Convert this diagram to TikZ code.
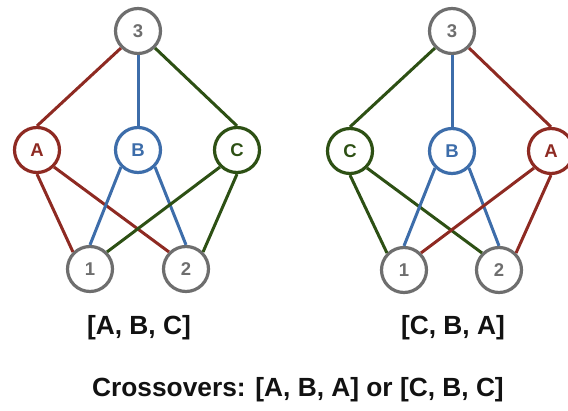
\documentclass[tikz,border=0pt]{standalone}
\usepackage{fontspec}
\setmainfont{Liberation Sans}
\usepackage{xcolor}
\usepackage{tikz}

\definecolor{vred}{HTML}{8E2A22}
\definecolor{vblue}{HTML}{3D6DAA}
\definecolor{vgreen}{HTML}{2D5014}
\definecolor{vgray}{HTML}{6E6E6E}

\begin{document}
\begin{tikzpicture}[
  x=1pt, y=-1pt,
  vtx/.style={circle, draw, line width=3.2pt, minimum size=45pt, inner sep=0pt, fill=white,
    font=\bfseries\fontsize{18.5}{18.5}\selectfont},
  grayv/.style={vtx, draw=vgray, text=vgray},
  redv/.style={vtx, draw=vred, text=vred},
  bluev/.style={vtx, draw=vblue, text=vblue},
  greenv/.style={vtx, draw=vgreen, text=vgreen},
  link/.style={line width=3pt},
  caption/.style={font=\bfseries\fontsize{26.3}{26.3}\selectfont, text=black!93}
]
\useasboundingbox (0,0) rectangle (568,410);

% left ordering
\node[grayv] (l3) at (138,31) {3};
\node[redv] (lA) at (37,150) {A};
\node[bluev] (lB) at (138,150) {B};
\node[greenv] (lC) at (237,150) {C};
\node[grayv] (l1) at (90,269) {1};
\node[grayv] (l2) at (186,269) {2};

% right ordering
\node[grayv] (r3) at (452,31) {3};
\node[greenv] (rC) at (350,151) {C};
\node[bluev] (rB) at (452,151) {B};
\node[redv] (rA) at (551,151) {A};
\node[grayv] (r1) at (404,270) {1};
\node[grayv] (r2) at (499,270) {2};

\begin{scope}[on background layer/.try]
\draw[link, vred] (l3.south west) -- (lA.north);
\draw[link, vblue] (l3.south) -- (lB.north);
\draw[link, vgreen] (l3.south east) -- (lC.north);
\draw[link, vred] (lA.south) -- (l1.north west);
\draw[link, vred] (lA.south east) -- (l2.north west);
\draw[link, vblue] (lB.south west) -- (l1.north);
\draw[link, vblue] (lB.south east) -- (l2.north);
\draw[link, vgreen] (lC.south west) -- (l1.north east);
\draw[link, vgreen] (lC.south) -- (l2.north east);

\draw[link, vgreen] (r3.south west) -- (rC.north);
\draw[link, vblue] (r3.south) -- (rB.north);
\draw[link, vred] (r3.south east) -- (rA.north);
\draw[link, vgreen] (rC.south) -- (r1.north west);
\draw[link, vgreen] (rC.south east) -- (r2.north west);
\draw[link, vblue] (rB.south west) -- (r1.north);
\draw[link, vblue] (rB.south east) -- (r2.north);
\draw[link, vred] (rA.south west) -- (r1.north east);
\draw[link, vred] (rA.south) -- (r2.north east);
\end{scope}

\node[caption] (lorder) at (139,328) {[A, B, C]};
\node[caption] (rorder) at (453,328) {[C, B, A]};
\node[caption] (cross) at (298,390) {Crossovers: [A, B, A] or [C, B, C]};
\end{tikzpicture}
\end{document}
